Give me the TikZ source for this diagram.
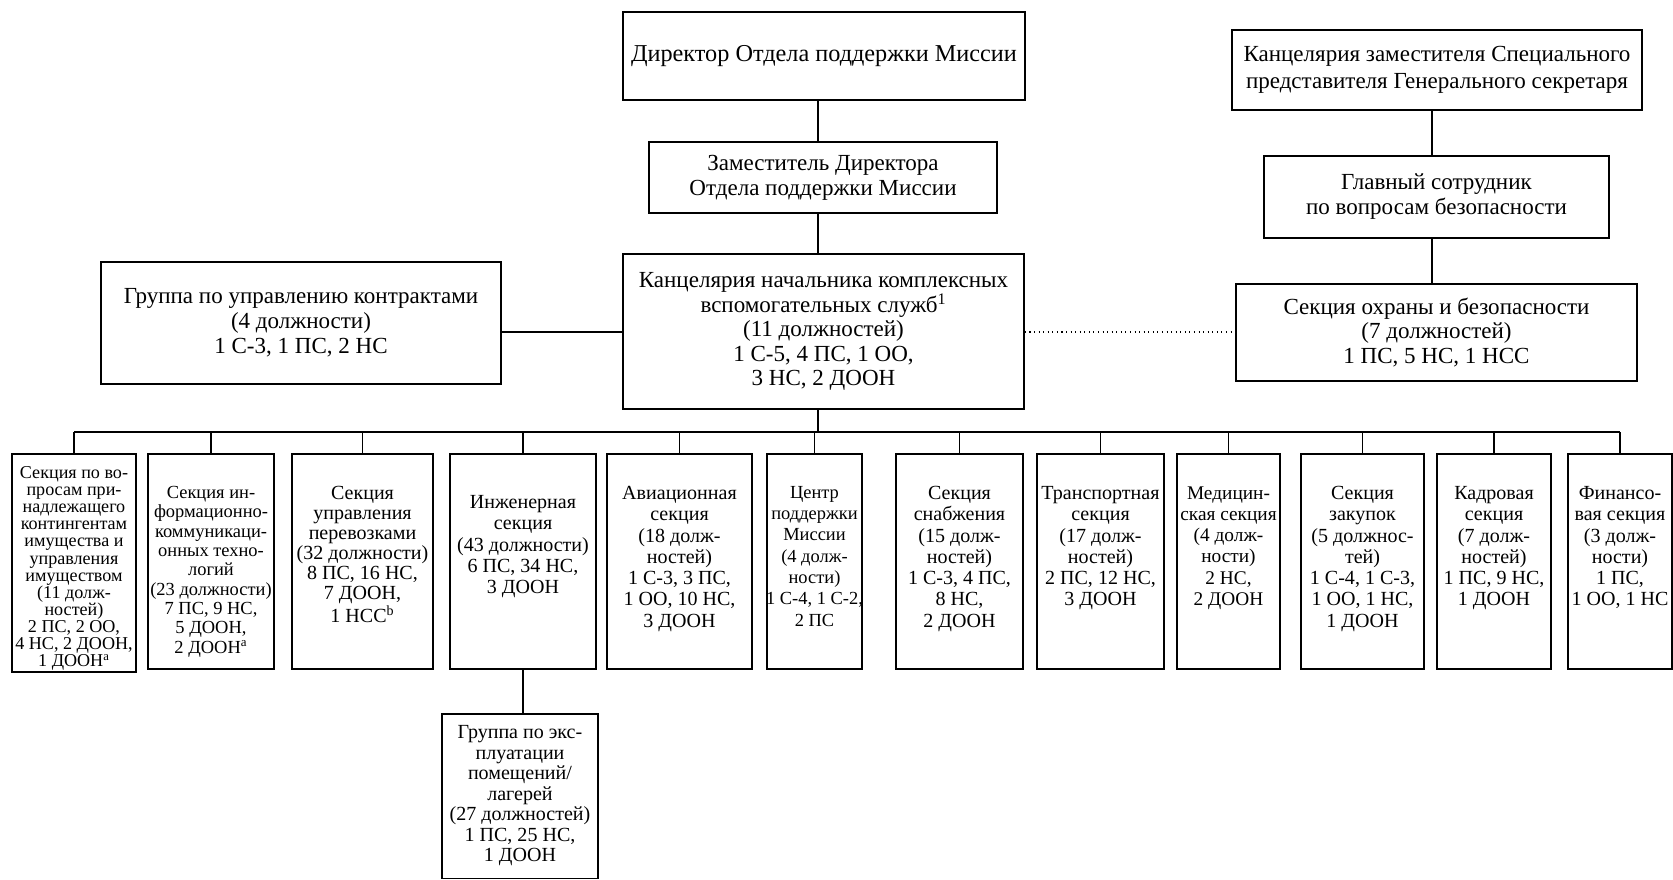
\documentclass[tikz,border=0pt]{standalone}
\usepackage{fontspec}
\setmainfont{Liberation Serif}
\usepackage{tikz}
\usetikzlibrary{calc}

\begin{document}
\begin{tikzpicture}[
  topbox/.style={draw, line width=1pt, align=center, inner sep=0pt,
    font=\fontsize{13.1}{14.2}\selectfont},
  sectbox/.style={draw, line width=1pt, anchor=north, minimum height=4.30cm, inner sep=0pt},
  secttext/.style={anchor=north, align=center, inner sep=0pt,
    font=\fontsize{11.4}{12.1}\selectfont},
  link/.style={line width=1pt}]
\useasboundingbox (0,0) rectangle (33.46,-17.58);
% upper part
\path
(16.48,-1.12) node[topbox, minimum width=8.04cm, minimum height=1.76cm, font=\fontsize{13.8}{14.2}\selectfont] (dir) {Директор Отдела поддержки Миссии};
\path
(16.46,-3.55) node[topbox, minimum width=6.96cm, minimum height=1.42cm] (dep) {Заместитель Директора\\Отдела поддержки Миссии};
\path
(16.47,-6.63) node[topbox, minimum width=8.02cm, minimum height=3.10cm, font=\fontsize{13.1}{13.9}\selectfont] (ccs) {Канцелярия начальника комплексных\\вспомогательных служб\textsuperscript{1}\\(11 должностей)\\1 С-5, 4 ПС, 1 ОО,\\3 НС, 2 ДООН};
\path
(6.02,-6.46) node[topbox, minimum width=8.0cm, minimum height=2.44cm] (cmu) {Группа по управлению контрактами\\(4 должности)\\1 С-3, 1 ПС, 2 НС};
\path
(28.74,-1.40) node[topbox, minimum width=8.2cm, minimum height=1.6cm, font=\fontsize{13.1}{15.2}\selectfont] (srsg) {Канцелярия заместителя Специального\\представителя Генерального секретаря};
\path
(28.73,-3.94) node[topbox, minimum width=6.9cm, minimum height=1.64cm] (cso) {Главный сотрудник\\по вопросам безопасности};
\path
(28.73,-6.65) node[topbox, minimum width=8.02cm, minimum height=1.94cm] (sss) {Секция охраны и безопасности\\(7 должностей)\\1 ПС, 5 НС, 1 НСС};
\coordinate (trunk) at (16.36,0);
\coordinate (rtrunk) at (28.64,0);
\coordinate (side) at (0,-6.64);
\coordinate (bus) at (0,-8.64);
% sections
\path
(1.48,-9.06) node[sectbox, minimum width=2.48cm, minimum height=4.36cm] (s1) {};
\path
(4.22,-9.06) node[sectbox, minimum width=2.52cm] (s2) {};
\path
(7.25,-9.06) node[sectbox, minimum width=2.82cm] (s3) {};
\path
(10.46,-9.06) node[sectbox, minimum width=2.92cm] (s4) {};
\path
(13.59,-9.06) node[sectbox, minimum width=2.90cm] (s5) {};
\path
(16.29,-9.06) node[sectbox, minimum width=1.90cm] (s6) {};
\path
(19.19,-9.06) node[sectbox, minimum width=2.54cm] (s7) {};
\path
(22.01,-9.06) node[sectbox, minimum width=2.54cm] (s8) {};
\path
(24.57,-9.06) node[sectbox, minimum width=2.06cm] (s9) {};
\path
(27.25,-9.06) node[sectbox, minimum width=2.46cm] (s10) {};
\path
(29.88,-9.06) node[sectbox, minimum width=2.28cm] (s11) {};
\path
(32.40,-9.06) node[sectbox, minimum width=2.08cm] (s12) {};
\path
(10.40,-14.26) node[sectbox, minimum width=3.12cm, minimum height=3.29cm] (eng) {};
% section texts
\path
(1.48,-9.32) node[secttext, font=\fontsize{10.3}{9.75}\selectfont] (t1) {Секция по во-\\просам при-\\надлежащего\\контингентам\\имущества и\\управления\\имуществом\\(11 долж-\\ностей)\\2 ПС, 2 ОО,\\4 НС, 2 ДООН,\\1 ДООН\textsuperscript{a}};
\path
(4.22,-9.72) node[secttext, font=\fontsize{10.5}{11}\selectfont] (t2) {Секция ин-\\формационно-\\коммуникаци-\\онных техно-\\логий\\(23 должности)\\7 ПС, 9 НС,\\5 ДООН,\\2 ДООН\textsuperscript{a}};
\path
(7.25,-9.72) node[secttext, font=\fontsize{11.4}{11.4}\selectfont] (t3) {Секция\\управления\\перевозками\\(32 должности)\\8 ПС, 16 НС,\\7 ДООН,\\1 НСС\textsuperscript{b}};
\path
(10.46,-9.90) node[secttext] (t4) {Инженерная\\секция\\(43 должности)\\6 ПС, 34 НС,\\3 ДООН};
\path
(13.59,-9.72) node[secttext] (t5) {Авиационная\\секция\\(18 долж-\\ностей)\\1 С-3, 3 ПС,\\1 ОО, 10 НС,\\3 ДООН};
\path
(16.29,-9.72) node[secttext, font=\fontsize{10.5}{12.1}\selectfont] (t6) {Центр\\поддержки\\Миссии\\(4 долж-\\ности)\\1 С-4, 1 С-2,\\2 ПС};
\path
(19.19,-9.72) node[secttext] (t7) {Секция\\снабжения\\(15 долж-\\ностей)\\1 С-3, 4 ПС,\\8 НС,\\2 ДООН};
\path
(22.01,-9.72) node[secttext] (t8) {Транспортная\\секция\\(17 долж-\\ностей)\\2 ПС, 12 НС,\\3 ДООН};
\path
(24.57,-9.72) node[secttext, font=\fontsize{11}{12.1}\selectfont] (t9) {Медицин-\\ская секция\\(4 долж-\\ности)\\2 НС,\\2 ДООН};
\path
(27.25,-9.72) node[secttext] (t10) {Секция\\закупок\\(5 должнос-\\тей)\\1 С-4, 1 С-3,\\1 ОО, 1 НС,\\1 ДООН};
\path
(29.88,-9.72) node[secttext] (t11) {Кадровая\\секция\\(7 долж-\\ностей)\\1 ПС, 9 НС,\\1 ДООН};
\path
(32.40,-9.72) node[secttext] (t12) {Финансо-\\вая секция\\(3 долж-\\ности)\\1 ПС,\\1 ОО, 1 НС};
\path
(10.40,-14.50) node[secttext, font=\fontsize{11.4}{11.7}\selectfont] (t13) {Группа по экс-\\плуатации\\помещений/\\лагерей\\(27 должностей)\\1 ПС, 25 НС,\\1 ДООН};
% connectors
\draw[link] (dir.south -| trunk)--(dep.north -| trunk);
\draw[link] (dep.south -| trunk)--(ccs.north -| trunk);
\draw[link] (ccs.south -| trunk)--(bus -| trunk);
\draw[link] (ccs.west |- side)--(cmu.east |- side);
\draw[dotted, line width=0.6pt] (ccs.east |- side)--(sss.west |- side);
\draw[link] (srsg.south -| rtrunk)--(cso.north -| rtrunk);
\draw[link] (cso.south -| rtrunk)--(sss.north -| rtrunk);
\draw[link] (s1.north |- bus)--(s12.north |- bus);
\foreach \s in {s1,s2,s3,s4,s5,s6,s7,s8,s9,s10,s11,s12}
  \draw[link] (\s.north)--(\s.north |- bus);
\draw[link] (s4.south)--(s4.south |- eng.north);
\end{tikzpicture}
\end{document}
